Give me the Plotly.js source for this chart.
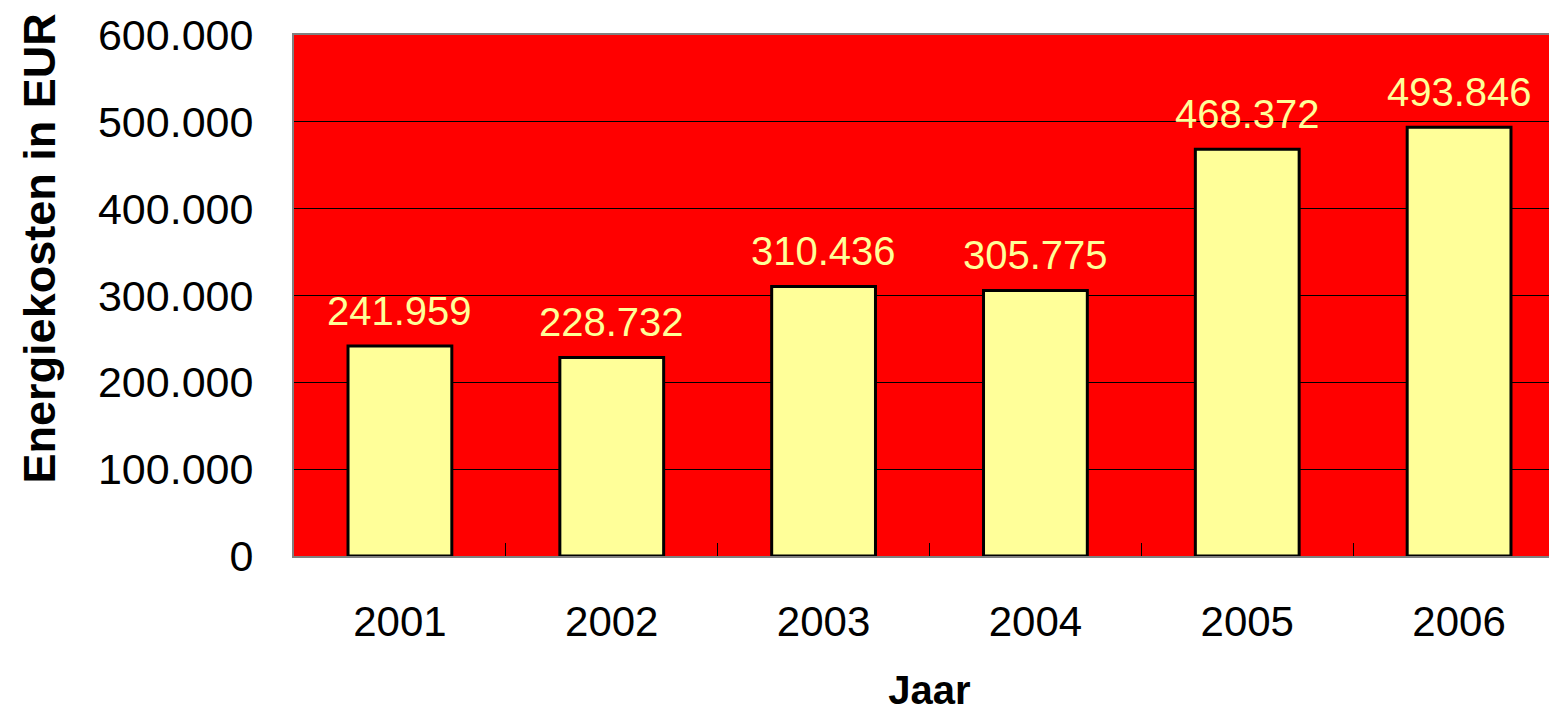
<!DOCTYPE html>
<html>
<head>
<meta charset="utf-8">
<script src="https://cdn.plot.ly/plotly-3.0.1.min.js"></script>
<style>
html,body{margin:0;padding:0;overflow:hidden;background:#fff;}
#chart{width:1600px;height:719px;}
</style>
</head>
<body>
<div id="chart"></div>
<script>
var years = ['2001','2002','2003','2004','2005','2006'];
var costs = [241959, 228732, 310436, 305775, 468372, 493846];
var yTicks = [0, 100000, 200000, 300000, 400000, 500000, 600000];
var yTitle = 'Energiekosten in EUR';
var xTitle = 'Jaar';

function fmt(v){ return String(v).replace(/\B(?=(\d{3})+(?!\d))/g, '.'); }

var font = 'Liberation Sans, Arial, sans-serif';

var trace = {
  type: 'bar',
  x: years,
  y: costs,
  marker: {color: '#FFFF99', line: {color: '#000000', width: 3}},
  hoverinfo: 'none'
};

var annotations = years.map(function(yr, i){
  return {
    x: i, y: costs[i], xref: 'x', yref: 'y',
    text: fmt(costs[i]), showarrow: false,
    yanchor: 'bottom', yshift: 11,
    font: {family: font, size: 40, color: '#FFFF99'}
  };
});
annotations.push({
  xref: 'paper', yref: 'paper', x: -0.2, y: 0.59,
  xanchor: 'center', yanchor: 'middle', textangle: -90,
  text: '<b>' + yTitle + '</b>', showarrow: false,
  font: {family: font, size: 45, color: '#000000'}
});

var layout = {
  width: 1600, height: 719,
  margin: {l: 294, r: 35, t: 35, b: 163},
  paper_bgcolor: '#ffffff',
  plot_bgcolor: '#FF0000',
  separators: ',.',
  showlegend: false,
  bargap: 0.51,
  font: {family: font, color: '#000000'},
  xaxis: {
    type: 'category',
    range: [-0.5, 5.5],
    tickson: 'boundaries',
    ticks: 'inside', ticklen: 13, tickwidth: 1, tickcolor: '#000000',
    tickfont: {family: font, size: 42, color: '#000000'},
    ticklabelstandoff: 28,
    showline: true, linecolor: '#808080', linewidth: 2, mirror: true,
    showgrid: false,
    title: {text: '<b>' + xTitle + '</b>', font: {family: font, size: 40, color: '#000000'}, standoff: 32}
  },
  yaxis: {
    range: [0, 600000],
    tickvals: yTicks,
    tickformat: ',d',
    ticks: 'inside', ticklen: 13, tickwidth: 1, tickcolor: '#000000',
    tickfont: {family: font, size: 43, color: '#000000'},
    ticklabelstandoff: 30,
    showline: true, linecolor: '#808080', linewidth: 2, mirror: true,
    showgrid: true, gridcolor: '#000000', gridwidth: 1,
    zeroline: true, zerolinecolor: '#000000', zerolinewidth: 1
  },
  annotations: annotations
};

Plotly.newPlot('chart', [trace], layout, {staticPlot: true, displayModeBar: false});
</script>
</body>
</html>
